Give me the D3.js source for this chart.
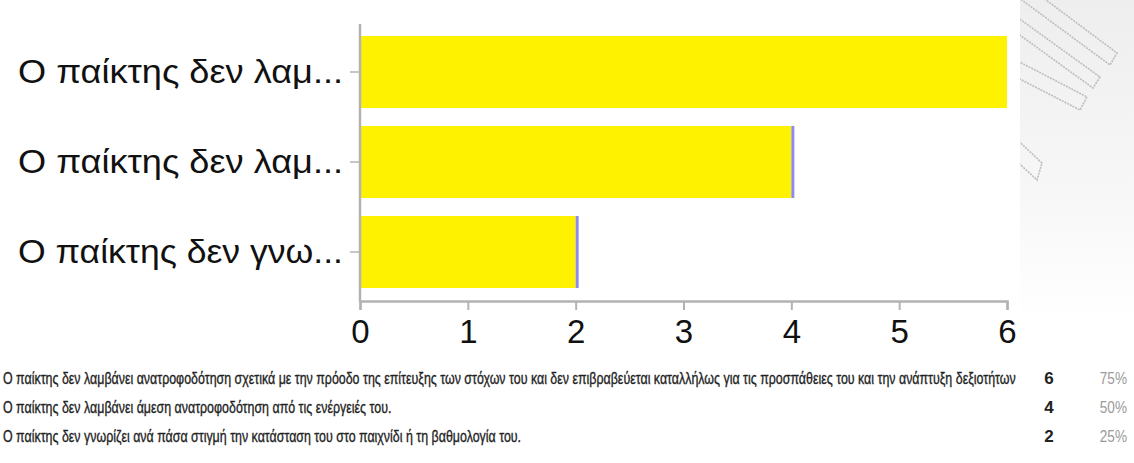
<!DOCTYPE html>
<html>
<head>
<meta charset="utf-8">
<script src="https://cdn.jsdelivr.net/npm/d3@7"></script>
<style>
  html, body { margin: 0; padding: 0; background: #fff; }
  svg { display: block; }
</style>
</head>
<body>
<svg id="chart" width="1134" height="463"></svg>
<script>
// Survey responses: statements and how many respondents chose each
const categories = [
  "Ο παίκτης δεν λαμβάνει ανατροφοδότηση σχετικά με την πρόοδο της επίτευξης των στόχων του και δεν επιβραβεύεται καταλλήλως για τις προσπάθειες του και την ανάπτυξη δεξιοτήτων",
  "Ο παίκτης δεν λαμβάνει άμεση ανατροφοδότηση από τις ενέργειές του.",
  "Ο παίκτης δεν γνωρίζει ανά πάσα στιγμή την κατάσταση του στο παιχνίδι ή τη βαθμολογία του."
];
const counts = [6, 4, 2];
const percents = ["75%", "50%", "25%"];
const xTicks = [0, 1, 2, 3, 4, 5, 6];

const svg = d3.select("#chart");
const defs = svg.append("defs");
const FONT = "'Liberation Sans', Arial, sans-serif";

// ---- light backdrop with outlined diagonal ribbons on the right ----
const bgGrad = defs.append("linearGradient").attr("id", "bgGrad")
  .attr("x1", 0).attr("y1", 0).attr("x2", 0).attr("y2", 1);
bgGrad.append("stop").attr("offset", "0%").attr("stop-color", "#eeeeee");
bgGrad.append("stop").attr("offset", "60%").attr("stop-color", "#f7f7f7");
bgGrad.append("stop").attr("offset", "100%").attr("stop-color", "#ffffff");
svg.append("rect").attr("x", 1020).attr("y", 0).attr("width", 114).attr("height", 320)
  .attr("fill", "url(#bgGrad)");

defs.append("clipPath").attr("id", "panelClip")
  .append("rect").attr("x", 1020).attr("y", 0).attr("width", 114).attr("height", 320);
const ribbons = [
  [[1030, -12], [1117, 53], [1110, 65], [1015, -5]],
  [[1010, 12], [1100, 77], [1093, 88], [1010, 28]],
  [[1010, 57], [1087, 97], [1080, 110], [1010, 74]],
  [[1010, 133], [1042, 163], [1037, 180], [1010, 155]]
];
svg.append("g").attr("clip-path", "url(#panelClip)")
  .selectAll("path").data(ribbons).join("path")
  .attr("d", d => d3.line()(d))
  .attr("fill", "none").attr("stroke", "#bdbdbd").attr("stroke-width", 1.6)
  .attr("stroke-dasharray", "2,1");

// ---- bar chart ----
const x = d3.scaleLinear().domain([0, 6]).range([360, 1007]);
const y = d3.scaleBand().domain(d3.range(categories.length))
  .range([27, 297]).paddingInner(0.2).paddingOuter(0.1);

defs.append("clipPath").attr("id", "plotClip")
  .append("rect").attr("x", x(0)).attr("y", 0).attr("width", x(6) - x(0)).attr("height", 463);

const bars = svg.append("g").attr("clip-path", "url(#plotClip)");
bars.selectAll("rect.bar").data(counts).join("rect")
  .attr("class", "bar")
  .attr("x", x(0))
  .attr("y", (d, i) => y(i))
  .attr("width", d => x(d) - x(0))
  .attr("height", y.bandwidth())
  .attr("fill", "#fff200");
bars.selectAll("rect.edge").data(counts).join("rect")
  .attr("class", "edge")
  .attr("x", d => x(d))
  .attr("y", (d, i) => y(i))
  .attr("width", 3)
  .attr("height", y.bandwidth())
  .attr("fill", "#8c8cf0");

// x axis
const xAxis = svg.append("g").attr("transform", "translate(0,301)")
  .call(d3.axisBottom(x).tickValues(xTicks).tickFormat(d3.format("d")).tickSize(9).tickPadding(10));
xAxis.select(".domain").attr("stroke", "#b3b3b3").attr("stroke-width", 2.5);
xAxis.selectAll(".tick line").attr("stroke", "#b3b3b3").attr("stroke-width", 2);
xAxis.selectAll(".tick text")
  .attr("font-family", FONT)
  .attr("font-size", 33).attr("fill", "#111");

// y axis with shortened statement labels
const truncate = s => s.length > 17 ? s.slice(0, 17) + "..." : s;
const yAxis = svg.append("g").attr("transform", "translate(360,0)")
  .call(d3.axisLeft(y).tickFormat(i => truncate(categories[i])).tickSize(10).tickPadding(7));
yAxis.select(".domain").remove();
svg.append("line").attr("x1", 360).attr("x2", 360).attr("y1", 24).attr("y2", 302)
  .attr("stroke", "#b3b3b3").attr("stroke-width", 2.5);
yAxis.selectAll(".tick line").attr("stroke", "#b3b3b3").attr("stroke-width", 1.5);
yAxis.selectAll(".tick text")
  .attr("font-family", FONT)
  .attr("font-size", 33).attr("fill", "#111")
  .attr("textLength", 325).attr("lengthAdjust", "spacingAndGlyphs");

// ---- summary table below ----
const rowY = [378, 407, 436];
const table = svg.append("g").attr("font-family", FONT);
const catText = table.selectAll("text.cat").data(categories).join("text")
  .attr("class", "cat")
  .attr("x", 0).attr("y", 0)
  .attr("dy", "0.35em")
  .attr("font-size", 17).attr("fill", "#222")
  .attr("stroke", "#222").attr("stroke-width", 0.35)
  .text(d => d);
// squeeze the rows horizontally so the longest statement fits before the counts
const longest = d3.max(catText.nodes(), n => n.getComputedTextLength());
const squeeze = 1014 / longest;
catText.attr("transform", (d, i) => `translate(3,${rowY[i]}) scale(${squeeze},1)`);

table.selectAll("text.cnt").data(counts).join("text")
  .attr("x", 1049).attr("y", (d, i) => rowY[i]).attr("dy", "0.35em")
  .attr("text-anchor", "middle").attr("font-size", 17).attr("font-weight", "bold").attr("fill", "#222")
  .text(d => d);
table.selectAll("text.pct").data(percents).join("text")
  .attr("transform", (d, i) => `translate(1127,${rowY[i]}) scale(0.85,1)`)
  .attr("dy", "0.35em")
  .attr("text-anchor", "end").attr("font-size", 16).attr("fill", "#9a9a9a")
  .text(d => d);
</script>
</body>
</html>
